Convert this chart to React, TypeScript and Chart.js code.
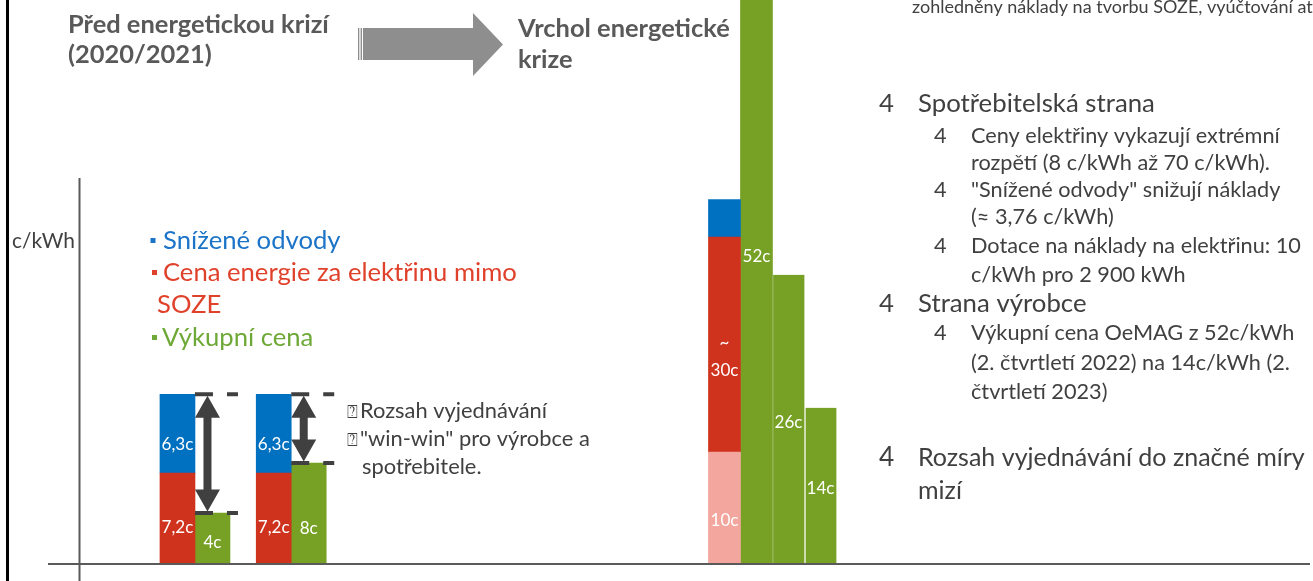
import React, { useEffect, useRef } from "react";
import { Chart, registerables } from "chart.js";

Chart.register(...registerables);

// ---------- categories (x slots); three of them carry bars ----------
const categories = [
  "", "Před krizí (výkupní cena 4c)", "Před krizí (výkupní cena 8c)", "", "", "", "",
  "Vrchol energetické krize", "", "", "", "", "",
];

// ---------- before the crisis (c/kWh) ----------
const preEnergyPrice = [null, 7.2, 7.2, null, null, null, null, null, null, null, null, null, null];
const preReducedLevies = [null, 6.3, 6.3, null, null, null, null, null, null, null, null, null, null];
const preFeedInPrice = [null, 4, 8, null, null, null, null, null, null, null, null, null, null];

// ---------- peak of the crisis (c/kWh, as drawn on the slide; own scale) ----------
const crisisSubsidised = [null, null, null, null, null, null, null, 10, null, null, null, null, null];
// the energy bar is drawn shortened on the slide and labelled "~30c"
const crisisEnergyPrice = [null, null, null, null, null, null, null, 19.4, null, null, null, null, null];
const crisisReducedLevies = [null, null, null, null, null, null, null, 3.4, null, null, null, null, null];
const crisisFeedInQ2_2022 = [null, null, null, null, null, null, null, 52, null, null, null, null, null];
const crisisFeedInMid = [null, null, null, null, null, null, null, 26, null, null, null, null, null];
const crisisFeedInQ2_2023 = [null, null, null, null, null, null, null, 14, null, null, null, null, null];
const crisisEnergyLabel = ["~", "30c"];

// ---------- texts ----------
const titleBefore = ["Před energetickou krizí", "(2020/2021)"];
const titlePeak = ["Vrchol energetické", "krize"];
const topNote = "zohledněny náklady na tvorbu SOZE, vyúčtování atd.";
const unitLabel = "c/kWh";
const legendTexts = ["Snížené odvody", "Cena energie za elektřinu mimo", "SOZE", "Výkupní cena"];
const noteTexts = ["Rozsah vyjednávání", "\"win-win\" pro výrobce a", "spotřebitele."];
const bulletGlyph = "4";
const rightList = [
  { level: 1, bullet: true, text: "Spotřebitelská strana" },
  { level: 2, bullet: true, text: "Ceny elektřiny vykazují extrémní" },
  { level: 2, bullet: false, text: "rozpětí (8 c/kWh až 70 c/kWh)." },
  { level: 2, bullet: true, text: "\"Snížené odvody\" snižují náklady" },
  { level: 2, bullet: false, text: "(≈ 3,76 c/kWh)" },
  { level: 2, bullet: true, text: "Dotace na náklady na elektřinu: 10" },
  { level: 2, bullet: false, text: "c/kWh pro 2 900 kWh" },
  { level: 1, bullet: true, text: "Strana výrobce" },
  { level: 2, bullet: true, text: "Výkupní cena OeMAG z 52c/kWh" },
  { level: 2, bullet: false, text: "(2. čtvrtletí 2022) na 14c/kWh (2." },
  { level: 2, bullet: false, text: "čtvrtletí 2023)" },
  { level: 3, bullet: true, text: "Rozsah vyjednávání do značné míry" },
  { level: 3, bullet: false, text: "mizí" },
];

// ---------- styles / layout (not data) ----------
const C = {
  blue: "#0070C0",
  red: "#CF331E",
  pink: "#F2A69D",
  green: "#76A125",
  legendBlue: "#1C74C8",
  legendRed: "#E0412B",
  legendGreen: "#6EA836",
  text: "#404040",
  title: "#595959",
  arrow: "#8E8E8E",
  axis: "#5A5A5A",
};
const FONT = "Lato";
const rightListBaselines = [112, 143, 170, 197, 224, 253, 282, 312, 340, 370, 399, 466, 499];
const valueLabelLayout = [
  { ds: 0, idx: 1, dy: 15 },
  { ds: 0, idx: 2, dy: 15 },
  { ds: 1, idx: 1, dy: 16.5 },
  { ds: 1, idx: 2, dy: 16.5 },
  { ds: 2, idx: 1, dy: 10 },
  { ds: 2, idx: 2, dy: 20.5 },
  { ds: 3, idx: 7, dy: 18 },
  { ds: 4, idx: 7, dy: 31, pre: 3 },
  { ds: 6, idx: 7, dy: -19.5 },
  { ds: 7, idx: 7, dy: 9 },
  { ds: 8, idx: 7, dy: 8.5 },
];

function fmtValue(v: number) {
  return String(v).replace(".", ",") + "c";
}

function fitSize(ctx: CanvasRenderingContext2D, text: string, weight: string, target: number) {
  ctx.font = `${weight} 100px ${FONT}`;
  return (100 * target) / ctx.measureText(text).width;
}

function txt(ctx: CanvasRenderingContext2D, s: string, x: number, y: number, size: number, color: string, weight = "normal", align: CanvasTextAlign = "left") {
  ctx.font = `${weight} ${size}px ${FONT}, "DejaVu Sans"`;
  ctx.fillStyle = color;
  ctx.textAlign = align;
  ctx.textBaseline = "alphabetic";
  ctx.fillText(s, x, y);
}

function doubleArrow(ctx: CanvasRenderingContext2D, x: number, y1: number, y2: number) {
  const hw = 12.5, hh = 22, sw = 4;
  ctx.beginPath();
  ctx.moveTo(x, y1);
  ctx.lineTo(x + hw, y1 + hh);
  ctx.lineTo(x + sw, y1 + hh);
  ctx.lineTo(x + sw, y2 - hh);
  ctx.lineTo(x + hw, y2 - hh);
  ctx.lineTo(x, y2);
  ctx.lineTo(x - hw, y2 - hh);
  ctx.lineTo(x - sw, y2 - hh);
  ctx.lineTo(x - sw, y1 + hh);
  ctx.lineTo(x - hw, y1 + hh);
  ctx.closePath();
  ctx.fill();
}

const slidePlugin = {
  id: "slide",
  beforeDatasetsDraw(chart: any) {
    const ctx: CanvasRenderingContext2D = chart.ctx;
    ctx.save();
    // left frame line
    ctx.fillStyle = "#000";
    ctx.fillRect(6, 0, 3, chart.height);
    // striped block arrow
    ctx.fillStyle = C.arrow;
    ctx.fillRect(358, 28, 1.3, 32);
    ctx.fillRect(360.6, 28, 1.4, 32);
    ctx.beginPath();
    ctx.moveTo(363, 28);
    ctx.lineTo(473, 28);
    ctx.lineTo(473, 13);
    ctx.lineTo(503, 44.5);
    ctx.lineTo(473, 76);
    ctx.lineTo(473, 60);
    ctx.lineTo(363, 60);
    ctx.closePath();
    ctx.fill();
    ctx.restore();
  },
  afterDatasetsDraw(chart: any) {
    const ctx: CanvasRenderingContext2D = chart.ctx;
    const area = chart.chartArea;
    ctx.save();

    // axes lines
    ctx.fillStyle = C.axis;
    ctx.fillRect(48, area.bottom, 1262, 2);
    ctx.fillRect(78.5, 178, 2, chart.height - 178);

    // value labels inside bars
    const labelSize = fitSize(ctx, "52c", "normal", 28);
    for (const l of valueLabelLayout) {
      const el = chart.getDatasetMeta(l.ds).data[l.idx];
      if (!el) continue;
      const p = el.getProps(["x", "y", "base"], true);
      const top = Math.max(Math.min(p.y, p.base), area.top);
      const bottom = Math.max(p.y, p.base);
      const mid = (top + bottom) / 2;
      const v = chart.data.datasets[l.ds].data[l.idx];
      if (l.ds === 4) {
        txt(ctx, crisisEnergyLabel[0], p.x, mid + (l.pre as number), labelSize, "#fff", "normal", "center");
        txt(ctx, crisisEnergyLabel[1], p.x, mid + l.dy, labelSize, "#fff", "normal", "center");
      } else {
        txt(ctx, fmtValue(v), p.x, mid + l.dy, labelSize, "#fff", "normal", "center");
      }
    }

    // negotiation range arrows + dashed guides
    ctx.fillStyle = C.text;
    ctx.strokeStyle = C.text;
    for (const idx of [1, 2]) {
      const top = chart.getDatasetMeta(1).data[idx].getProps(["y"], true).y;
      const g = chart.getDatasetMeta(2).data[idx].getProps(["x", "y", "width"], true);
      const left = g.x - g.width / 2;
      ctx.setLineDash([18, 14]);
      ctx.lineWidth = 4;
      for (const yy of [top, g.y]) {
        ctx.beginPath();
        ctx.moveTo(left, yy);
        ctx.lineTo(left + 43, yy);
        ctx.stroke();
      }
      ctx.setLineDash([]);
      doubleArrow(ctx, left + 12.5, top + 1.5, g.y - 1.5);
    }

    // titles
    const tSize = fitSize(ctx, titleBefore[0], "bold", 261);
    txt(ctx, titleBefore[0], 68, 33, tSize, C.title, "bold");
    txt(ctx, titleBefore[1], 68, 63, tSize, C.title, "bold");
    txt(ctx, titlePeak[0], 518, 37, tSize, C.title, "bold");
    txt(ctx, titlePeak[1], 518, 68, tSize, C.title, "bold");

    // top-right note (cut by the edge)
    const nSize = fitSize(ctx, "zohledněny náklady na tvorbu SOZE, vyúčtování at", "normal", 401);
    txt(ctx, topNote, 912, 13, nSize, C.text);

    // unit
    const uSize = fitSize(ctx, unitLabel, "normal", 63);
    txt(ctx, unitLabel, 12, 248, uSize, C.text);

    // legend
    const lgSize = fitSize(ctx, legendTexts[1], "normal", 354);
    const lg = [
      { t: legendTexts[0], x: 163, y: 249, c: C.legendBlue, b: 150.5 },
      { t: legendTexts[1], x: 163, y: 281, c: C.legendRed, b: 152 },
      { t: legendTexts[2], x: 157, y: 313, c: C.legendRed, b: -1 },
      { t: legendTexts[3], x: 162, y: 346, c: C.legendGreen, b: 152 },
    ];
    for (const it of lg) {
      if (it.b > 0) {
        ctx.fillStyle = it.c;
        ctx.fillRect(it.b, it.y - 11, 5, 5);
      }
      txt(ctx, it.t, it.x, it.y, lgSize, it.c);
    }

    // note next to arrows
    const anSize = fitSize(ctx, noteTexts[1], "normal", 230);
    txt(ctx, "⍰", 347, 418, anSize * 0.8, C.text);
    txt(ctx, noteTexts[0], 360, 418, anSize, C.text);
    txt(ctx, "⍰", 347, 446, anSize * 0.8, C.text);
    txt(ctx, noteTexts[1], 360, 446, anSize, C.text);
    txt(ctx, noteTexts[2], 362, 474, anSize, C.text);

    // right bullet list
    const s1 = fitSize(ctx, "Spotřebitelská strana", "normal", 237);
    const s2 = fitSize(ctx, "Ceny elektřiny vykazují extrémní", "normal", 309);
    const s3 = fitSize(ctx, "Rozsah vyjednávání do značné míry", "normal", 387);
    rightList.forEach((it, i) => {
      const y = rightListBaselines[i];
      if (it.level === 2) {
        if (it.bullet) txt(ctx, bulletGlyph, 934, y, s2, C.text);
        txt(ctx, it.text, 971, y, s2, C.text);
      } else {
        const s = it.level === 1 ? s1 : s3;
        if (it.bullet) txt(ctx, bulletGlyph, 879, y, it.level === 1 ? s1 : s1 * 1.02, C.text);
        txt(ctx, it.text, 918, y, s, C.text);
      }
    });

    ctx.restore();
  },
};

export default function App() {
  const ref = useRef<HTMLCanvasElement>(null);
  useEffect(() => {
    const leftBar = { yAxisID: "y", barThickness: 35, borderWidth: 0 };
    const rightBar = { yAxisID: "y2", barThickness: 32, borderWidth: 0 };
    const chart = new Chart(ref.current as HTMLCanvasElement, {
      type: "bar",
      data: {
        labels: categories,
        datasets: [
          { ...leftBar, label: "Cena energie za elektřinu mimo SOZE", data: preEnergyPrice, stack: "spotrebitel", backgroundColor: C.red },
          { ...leftBar, label: "Snížené odvody", data: preReducedLevies, stack: "spotrebitel", backgroundColor: C.blue },
          { ...leftBar, label: "Výkupní cena", data: preFeedInPrice, stack: "vykup1", backgroundColor: C.green },
          { ...rightBar, label: "Dotace", data: crisisSubsidised, stack: "spotrebitel", backgroundColor: C.pink },
          { ...rightBar, label: "Cena energie za elektřinu mimo SOZE (krize)", data: crisisEnergyPrice, stack: "spotrebitel", backgroundColor: C.red },
          { ...rightBar, label: "Snížené odvody (krize)", data: crisisReducedLevies, stack: "spotrebitel", backgroundColor: C.blue },
          { ...rightBar, label: "Výkupní cena Q2 2022", data: crisisFeedInQ2_2022, stack: "vykup1", backgroundColor: C.green },
          { ...rightBar, label: "Výkupní cena", data: crisisFeedInMid, stack: "vykup2", backgroundColor: C.green, borderColor: "#fff", borderWidth: { left: 1, top: 0, right: 0, bottom: 0 } },
          { ...rightBar, label: "Výkupní cena Q2 2023", data: crisisFeedInQ2_2023, stack: "vykup3", backgroundColor: C.green, borderColor: "#fff", borderWidth: { left: 1.5, top: 0, right: 0, bottom: 0 } },
        ] as any,
      },
      options: {
        responsive: false,
        animation: false,
        devicePixelRatio: 1,
        events: [],
        layout: { padding: { left: 50.6, right: 11.15, top: 0, bottom: 18 } },
        datasets: { bar: { skipNull: true, categoryPercentage: 1, barPercentage: 1 } } as any,
        plugins: { legend: { display: false }, tooltip: { enabled: false }, title: { display: false } },
        scales: {
          x: { type: "category", display: false, grid: { display: false } },
          y: { display: false, stacked: true, min: 0, max: 45.04 },
          y2: { display: false, stacked: true, min: 0, max: 50.8, position: "left" },
        },
      },
      plugins: [slidePlugin as any],
    });
    return () => chart.destroy();
  }, []);
  return (
    <div style={{ position: "absolute", left: 0, top: 0, width: 1313, height: 581, background: "#fff", overflow: "hidden" }}>
      <canvas ref={ref} width={1313} height={581} style={{ display: "block", width: 1313, height: 581 }} />
    </div>
  );
}
